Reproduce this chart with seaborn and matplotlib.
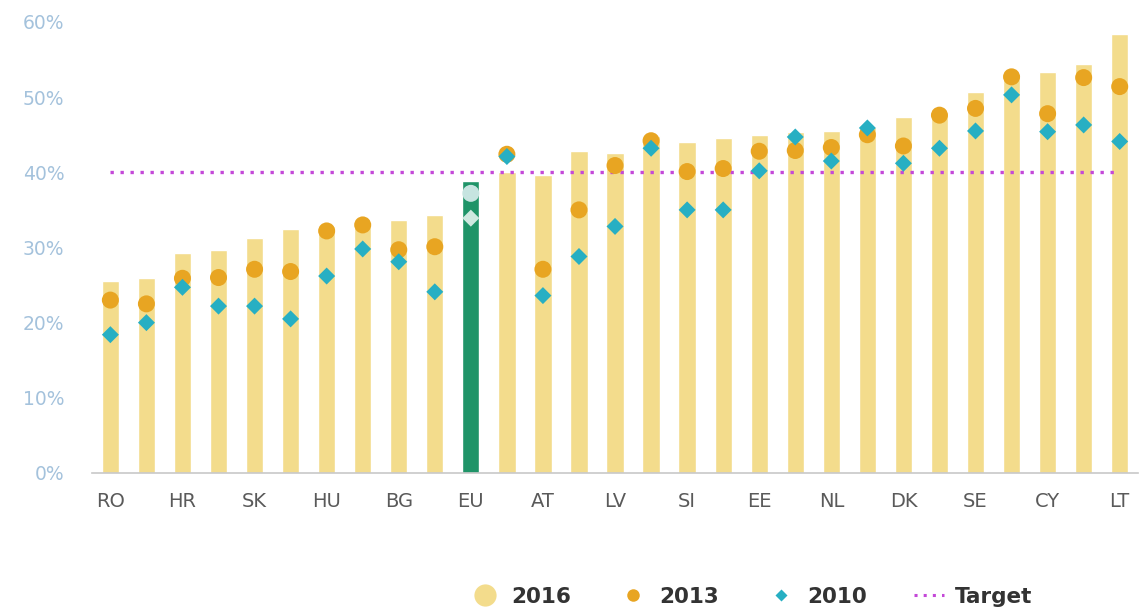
import numpy as np
import pandas as pd
import matplotlib
matplotlib.use("Agg")
import matplotlib.pyplot as plt
from matplotlib.lines import Line2D
import seaborn as sns

countries = ["RO", "IT", "HR", "MT", "SK", "CZ", "HU", "DE", "BG", "PT",
             "EU", "ES", "AT", "EL", "LV", "FR", "SI", "PL", "EE", "BE",
             "NL", "FI", "DK", "UK", "SE", "IE", "CY", "LU", "LT"]
v2016 = [25.5, 25.9, 29.2, 29.6, 31.2, 32.4, 32.8, 33.3, 33.6, 34.3,
         38.9, 40.1, 39.7, 42.8, 42.6, 44.8, 44.0, 44.5, 45.0, 45.3,
         45.5, 46.0, 47.4, 47.9, 50.7, 52.8, 53.3, 54.4, 58.4]
v2013 = [23.0, 22.5, 25.9, 26.0, 27.1, 26.8, 32.2, 33.0, 29.7, 30.1,
         37.2, 42.4, 27.1, 35.0, 40.9, 44.2, 40.1, 40.5, 42.8, 42.9,
         43.3, 45.0, 43.5, 47.6, 48.5, 52.7, 47.8, 52.6, 51.4]
v2010 = [18.4, 20.0, 24.7, 22.2, 22.2, 20.5, 26.2, 29.8, 28.1, 24.1,
         33.9, 42.1, 23.6, 28.8, 32.8, 43.2, 35.0, 35.0, 40.2, 44.7,
         41.5, 45.9, 41.2, 43.2, 45.5, 50.3, 45.4, 46.3, 44.1]
target = 40
ytick_vals = [0, 10, 20, 30, 40, 50, 60]

BAR = "#f3dc8c"
BAR_EU = "#1f9468"
C13 = "#e8a522"
C10 = "#27afc3"
C13_EU = "#c6e4e0"
C10_EU = "#cfe9e0"
TGT = "#c448d8"

df = pd.DataFrame({"country": countries, "v2016": v2016,
                   "v2013": v2013, "v2010": v2010})
df["pos"] = np.arange(len(df))
is_eu = df["country"] == "EU"

sns.set_style("white")
fig = plt.figure(figsize=(11.4, 6.1), dpi=100)
ax = fig.add_axes([0.081, 0.2246, 0.917, 0.7394])

pal = {c: (BAR_EU if c == "EU" else BAR) for c in countries}
sns.barplot(data=df, x="country", y="v2016", hue="country", palette=pal,
            legend=False, width=0.48, saturation=1, ax=ax, zorder=2)

# target line
ax.hlines(target, 0, len(countries) - 1, colors=TGT, linewidth=2.4,
          linestyles=(0, (1, 2)), zorder=3)

sns.scatterplot(data=df[~is_eu], x="pos", y="v2013", color=C13, s=150,
                marker="o", edgecolor="none", ax=ax, zorder=4, legend=False)
sns.scatterplot(data=df[~is_eu], x="pos", y="v2010", color=C10, s=75,
                marker="D", edgecolor="none", ax=ax, zorder=5, legend=False)
sns.scatterplot(data=df[is_eu], x="pos", y="v2013", color=C13_EU, s=150,
                marker="o", edgecolor="none", ax=ax, zorder=4, legend=False)
sns.scatterplot(data=df[is_eu], x="pos", y="v2010", color=C10_EU, s=75,
                marker="D", edgecolor="none", ax=ax, zorder=5, legend=False)

ax.set_xlim(-0.5, len(countries) - 0.5)
ax.set_ylim(0, 60)
ax.set_yticks(ytick_vals)
ax.set_yticklabels([f"{v}%" for v in ytick_vals], color="#a4c2dc",
                   fontsize=13.5)
shown = list(range(0, len(countries), 2))
ax.set_xticks(shown)
ax.set_xticklabels([countries[i] for i in shown], color="#5a5a5a",
                   fontsize=14)
ax.tick_params(axis="y", length=0, pad=20)
ax.tick_params(axis="x", length=9, width=0.8, color="#cccccc", pad=5)
ax.set_xlabel("")
ax.set_ylabel("")
for s in ["top", "right", "left"]:
    ax.spines[s].set_visible(False)
ax.spines["bottom"].set_color("#c8c8c8")
ax.spines["bottom"].set_linewidth(1.2)
ax.grid(False)

handles = [
    Line2D([], [], marker="o", linestyle="none", markersize=16,
           markerfacecolor=BAR, markeredgecolor="none"),
    Line2D([], [], marker="o", linestyle="none", markersize=9,
           markerfacecolor=C13, markeredgecolor="none"),
    Line2D([], [], marker="D", linestyle="none", markersize=6.5,
           markerfacecolor=C10, markeredgecolor="none"),
    Line2D([], [], color=TGT, linewidth=2.2, linestyle=(0, (1, 2))),
]
fig.legend(handles, ["2016", "2013", "2010", "Target"], loc="center",
           bbox_to_anchor=(0.659, 0.022), ncol=4, frameon=False,
           prop={"weight": "bold", "size": 15.5}, labelcolor="#333333",
           handlelength=1.4, handletextpad=0.5, columnspacing=2.2)

fig.savefig("out.png", dpi=100)
